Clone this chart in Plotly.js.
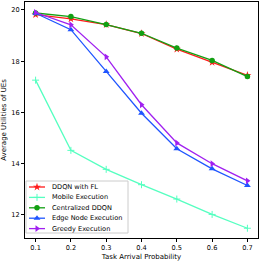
<!DOCTYPE html>
<html><head><meta charset="utf-8">
<script src="https://cdn.plot.ly/plotly-3.0.1.min.js"></script>
<style>html,body{margin:0;padding:0;background:#fff}#c{width:262px;height:261px}</style>
</head><body><div id="c"></div>
<script>
const xVals = [0.1, 0.2, 0.3, 0.4, 0.5, 0.6, 0.7];
const ddqnFL = [19.82, 19.65, 19.43, 19.08, 18.47, 17.95, 17.45];
const mobile = [17.26, 14.52, 13.78, 13.18, 12.62, 12.02, 11.48];
const centralized = [19.88, 19.74, 19.43, 19.09, 18.51, 18.03, 17.40];
const edge = [19.87, 19.23, 17.6, 15.97, 14.58, 13.8, 13.15];
const greedy = [19.9, 19.42, 18.17, 16.3, 14.81, 14.0, 13.33];
const names = ["DDQN with FL", "Mobile Execution", "Centralized DDQN", "Edge Node Execution", "Greedy Execution"];
const tickVals = [12, 14, 16, 18, 20];

const series = [ddqnFL, mobile, centralized, edge, greedy];
const colors = ["#ff1a1a", "#55ffc0", "#12a012", "#1f55ff", "#a020f0"];
const symbols = ["star", "cross-thin", "circle", "triangle-up", "triangle-right"];
const sizes = [6, 5, 5.5, 6, 6];

const traces = series.map((s, i) => ({
  x: xVals, y: s, name: names[i], type: "scatter", mode: "lines+markers",
  line: {color: colors[i], width: 1.3},
  marker: {color: colors[i], symbol: symbols[i], size: sizes[i], line: {color: colors[i], width: i === 1 ? 1 : 0}}
}));

// custom legend, drawn in a pixel-like overlay axis (x: 25..258, y: 238..2)
const L = {x0: 26, x1: 128, y0: 181, y1: 233, lineX0: 29, lineX1: 45, textX: 50, rowY0: 187, rowDy: 10.4};
const shapes = [{type: "rect", xref: "x2", yref: "y2", x0: L.x0, x1: L.x1, y0: L.y0, y1: L.y1,
  line: {color: "#cccccc", width: 1}, fillcolor: "rgba(255,255,255,0.85)", layer: "below"}];
const annotations = [];
names.forEach((n, i) => {
  const yy = L.rowY0 + i * L.rowDy;
  traces.push({x: [L.lineX0, L.lineX1], y: [yy, yy], xaxis: "x2", yaxis: "y2", mode: "lines",
    line: {color: colors[i], width: 1.3}, showlegend: false, hoverinfo: "skip"});
  traces.push({x: [(L.lineX0 + L.lineX1) / 2], y: [yy], xaxis: "x2", yaxis: "y2", mode: "markers",
    marker: {color: colors[i], symbol: symbols[i], size: sizes[i], line: {color: colors[i], width: i === 1 ? 1 : 0}},
    showlegend: false, hoverinfo: "skip"});
  annotations.push({xref: "x2", yref: "y2", x: L.textX, y: yy, text: n, showarrow: false,
    xanchor: "left", yanchor: "middle", font: {size: 6.6, color: "#000"}});
});

const layout = {
  width: 262, height: 261,
  margin: {l: 25, r: 4, t: 2, b: 23},
  paper_bgcolor: "#fff", plot_bgcolor: "#fff",
  font: {family: "DejaVu Sans, sans-serif", size: 6.6, color: "#000"},
  showlegend: false,
  shapes: shapes, annotations: annotations,
  xaxis: {range: [0.07, 0.73], tickvals: xVals, ticktext: xVals.map(v => v.toFixed(1)),
    showgrid: false, zeroline: false, showline: true, mirror: true, linecolor: "#000", linewidth: 1,
    ticks: "outside", ticklen: 3, tickcolor: "#000", tickfont: {size: 6.6},
    title: {text: "Task Arrival Probability", font: {size: 7}, standoff: 3}},
  yaxis: {range: [11.1, 20.31], tickvals: tickVals, showgrid: false, zeroline: false,
    showline: true, mirror: true, linecolor: "#000", linewidth: 1,
    ticks: "outside", ticklen: 3, tickcolor: "#000", tickfont: {size: 6.6},
    title: {text: "Average Utilities of UEs", font: {size: 7}, standoff: 4}},
  xaxis2: {overlaying: "x", anchor: "y2", range: [25, 258], visible: false, fixedrange: true},
  yaxis2: {overlaying: "y", anchor: "x2", range: [238, 2], visible: false, fixedrange: true}
};
Plotly.newPlot("c", traces, layout, {staticPlot: true, displayModeBar: false});
</script></body></html>
